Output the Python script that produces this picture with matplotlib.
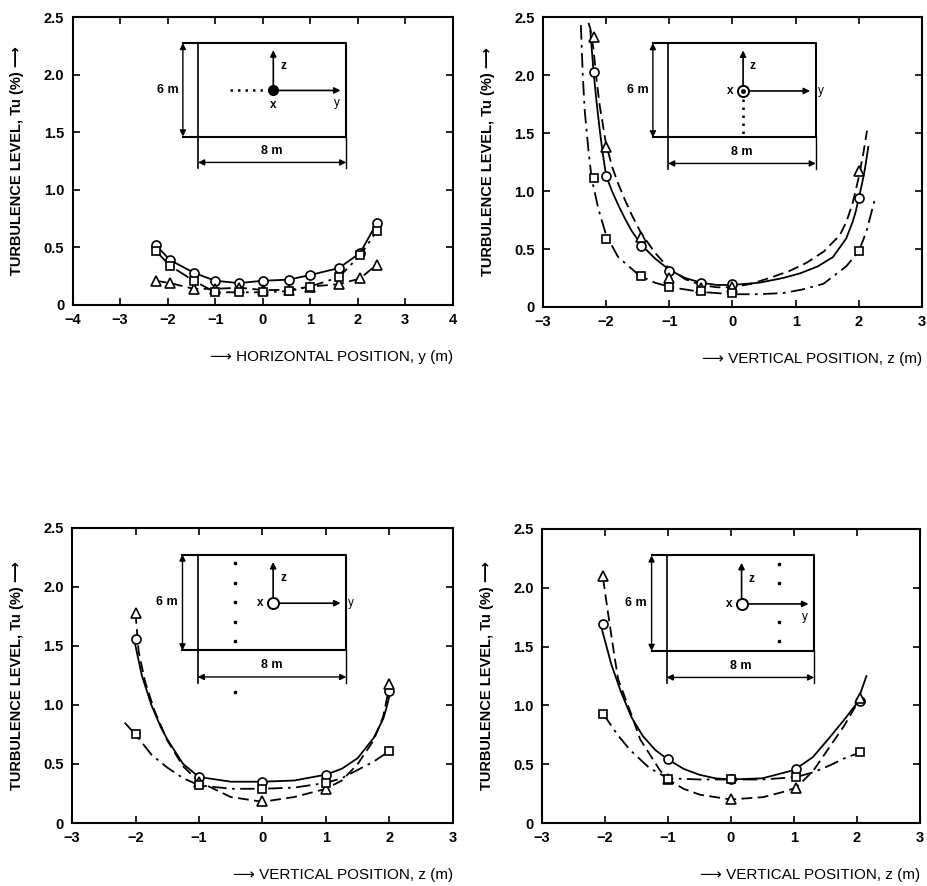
import matplotlib
matplotlib.use("Agg")
import matplotlib.pyplot as plt

plt.rcParams['font.family'] = ['Liberation Sans', 'DejaVu Sans']

# ---- top left: horizontal traverse, y (m) ----
tl_x = [-2.25, -1.95, -1.45, -1.0, -0.5, 0.0, 0.55, 1.0, 1.6, 2.05, 2.4]
tl_circle = [0.52, 0.39, 0.28, 0.21, 0.19, 0.21, 0.22, 0.26, 0.32, 0.45, 0.71]
tl_square = [0.47, 0.34, 0.21, 0.11, 0.11, 0.11, 0.12, 0.16, 0.24, 0.43, 0.64]
tl_triangle = [0.21, 0.19, 0.14, 0.14, 0.15, 0.13, 0.13, 0.16, 0.18, 0.23, 0.35]

# ---- top right: vertical traverse through centre ----
tr_x = [-2.2, -2.0, -1.45, -1.0, -0.5, 0.0, 2.0]
tr_circle = [2.03, 1.13, 0.53, 0.31, 0.21, 0.20, 0.94]
tr_triangle = [2.33, 1.38, 0.60, 0.25, 0.16, 0.17, 1.17]
tr_square = [1.11, 0.59, 0.27, 0.17, 0.14, 0.12, 0.48]

tr_solid_x = [-2.25, -2.2, -2.15, -2.1, -2.05, -2.0, -1.9, -1.8, -1.7, -1.6, -1.45, -1.23,
              -1.0, -0.75, -0.5, -0.25, 0.0, 0.43, 0.8, 1.07, 1.35, 1.59, 1.8, 1.9, 1.95,
              2.0, 2.05, 2.1, 2.15]
tr_solid_y = [2.38, 2.03, 1.76, 1.52, 1.31, 1.13, 0.99, 0.87, 0.76, 0.66, 0.54, 0.42,
              0.32, 0.25, 0.21, 0.19, 0.19, 0.21, 0.25, 0.29, 0.35, 0.43, 0.59, 0.73, 0.82,
              0.94, 1.06, 1.20, 1.38]
tr_dash_x = [-2.28, -2.25, -2.2, -2.15, -2.1, -2.0, -1.9, -1.8, -1.7, -1.6, -1.45, -1.23,
             -1.0, -0.75, -0.5, -0.25, 0.0, 0.3, 0.64, 0.9, 1.17, 1.45, 1.7, 1.8, 1.9, 2.0,
             2.07, 2.13]
tr_dash_y = [2.45, 2.40, 2.22, 1.95, 1.73, 1.40, 1.20, 1.05, 0.92, 0.80, 0.64, 0.47,
             0.33, 0.24, 0.19, 0.17, 0.17, 0.20, 0.26, 0.31, 0.38, 0.48, 0.62, 0.73, 0.89,
             1.12, 1.32, 1.52]
tr_dd_x = [-2.4, -2.37, -2.34, -2.28, -2.23, -2.12, -2.0, -1.81, -1.47, -1.23, -0.97, -0.5,
           0.0, 0.4, 0.8, 1.1, 1.44, 1.8, 2.0, 2.12, 2.25]
tr_dd_y = [2.43, 2.0, 1.70, 1.35, 1.11, 0.84, 0.62, 0.43, 0.27, 0.21, 0.17, 0.13,
           0.11, 0.11, 0.12, 0.15, 0.20, 0.35, 0.48, 0.65, 0.92]

# ---- bottom left: vertical traverse, left of centre ----
bl_x = [-2.0, -1.0, 0.0, 1.0, 2.0]
bl_circle = [1.56, 0.39, 0.35, 0.41, 1.12]
bl_triangle = [1.78, 0.35, 0.19, 0.29, 1.18]
bl_square = [0.75, 0.32, 0.29, 0.34, 0.61]

bl_solid_x = [-2.02, -1.9, -1.75, -1.6, -1.5, -1.25, -1.0, -0.5, 0.0, 0.5, 1.0, 1.25, 1.5,
              1.75, 1.9, 1.95, 2.0, 2.02]
bl_solid_y = [1.55, 1.25, 1.00, 0.81, 0.71, 0.50, 0.39, 0.35, 0.35, 0.36, 0.41, 0.46, 0.55,
              0.72, 0.88, 0.97, 1.08, 1.15]
bl_dash_x = [-2.0, -1.95, -1.85, -1.7, -1.5, -1.25, -1.0, -0.5, 0.0, 0.5, 1.0, 1.25, 1.5,
             1.75, 1.9, 2.0]
bl_dash_y = [1.78, 1.45, 1.20, 0.95, 0.70, 0.48, 0.35, 0.22, 0.18, 0.22, 0.29, 0.36, 0.50,
             0.70, 0.90, 1.16]
bl_dd_x = [-2.17, -2.0, -1.75, -1.5, -1.25, -1.0, -0.5, 0.0, 0.5, 1.0, 1.25, 1.5, 1.75, 2.0]
bl_dd_y = [0.85, 0.75, 0.58, 0.47, 0.38, 0.32, 0.29, 0.29, 0.30, 0.34, 0.38, 0.45, 0.52, 0.61]

# ---- bottom right: vertical traverse, right of centre ----
br_x = [-2.03, -1.0, 0.0, 1.03, 2.05]
br_circle = [1.69, 0.54, 0.37, 0.46, 1.04]
br_triangle = [2.10, 0.37, 0.20, 0.30, 1.06]
br_square = [0.93, 0.37, 0.37, 0.39, 0.60]

br_solid_x = [-2.05, -1.9, -1.75, -1.58, -1.4, -1.2, -1.0, -0.75, -0.5, -0.25, 0.0, 0.5,
              1.0, 1.3, 1.57, 1.8, 2.0, 2.15]
br_solid_y = [1.65, 1.35, 1.12, 0.90, 0.74, 0.62, 0.54, 0.46, 0.41, 0.38, 0.37, 0.38,
              0.45, 0.56, 0.73, 0.88, 1.02, 1.25]
br_dash_x = [-2.03, -1.95, -1.85, -1.79, -1.6, -1.44, -1.13, -1.0, -0.75, -0.49, 0.0, 0.51,
             0.8, 1.03, 1.3, 1.57, 1.8, 2.05]
br_dash_y = [2.08, 1.78, 1.42, 1.22, 0.95, 0.71, 0.45, 0.37, 0.29, 0.24, 0.20, 0.22,
             0.26, 0.30, 0.44, 0.65, 0.83, 1.06]
br_dd_x = [-2.03, -1.8, -1.6, -1.3, -1.0, -0.5, 0.0, 0.5, 1.03, 1.3, 1.57, 1.8, 2.05]
br_dd_y = [0.93, 0.75, 0.62, 0.47, 0.38, 0.37, 0.37, 0.37, 0.39, 0.43, 0.49, 0.55, 0.60]

y_ticks = [0, 0.5, 1.0, 1.5, 2.0, 2.5]
y_ticklabels = ['0', '0.5', '1.0', '1.5', '2.0', '2.5']
ylabel = 'TURBULENCE LEVEL, Tu (%) \u27f6'
xlabel_h = '\u27f6 HORIZONTAL POSITION, y (m)'
xlabel_v = '\u27f6 VERTICAL POSITION, z (m)'

SOLID = '-'
DASH = (0, (6, 3))
DASHDOT = (0, (8, 3, 1.5, 3))
MK = dict(color='k', mfc='white', mec='k', mew=1.2, ls='none', zorder=4)


def setup(ax, xlim, xlabel):
    ax.set_xlim(*xlim)
    ax.set_ylim(0, 2.5)
    ax.set_xticks(range(xlim[0], xlim[1] + 1))
    ax.set_xticklabels(['\u2212%d' % -v if v < 0 else '%d' % v for v in range(xlim[0], xlim[1] + 1)])
    ax.set_yticks(y_ticks)
    ax.set_yticklabels(y_ticklabels)
    ax.tick_params(direction='in', top=True, right=True, length=5, width=1.2,
                   labelsize=10.5, pad=6)
    for lab in ax.get_xticklabels() + ax.get_yticklabels():
        lab.set_fontweight('bold')
    for s in ax.spines.values():
        s.set_linewidth(1.5)
    ax.set_ylabel(ylabel, fontsize=10.5, fontweight='bold', labelpad=14)
    ax.set_xlabel(xlabel, fontsize=11, loc='right', labelpad=16)


def markers(ax, x, circ, tri, sq):
    ax.plot(x, circ, marker='o', ms=6.5, **MK)
    ax.plot(x, tri, marker='^', ms=6.5, **MK)
    ax.plot(x, sq, marker='s', ms=6, **MK)


def inset(ax, kind, x_left=False, y_below=False, dots=None):
    T = ax.transAxes
    x0, x1, y0, y1 = 0.33, 0.72, 0.585, 0.91
    xa = 0.29
    kw = dict(transform=T, color='k', lw=1.5)
    ax.plot([xa, x1, x1, xa], [y1, y1, y0, y0], **kw)
    ax.plot([x0, x0], [y1, 0.475], color='k', lw=1.2, transform=T)
    ax.plot([x1, x1], [y0, 0.475], color='k', lw=1.0, transform=T)
    arrow = dict(arrowstyle='<|-|>', color='k', lw=1.0, mutation_scale=9, shrinkA=0, shrinkB=0)
    ax.annotate('', xy=(xa, y1), xytext=(xa, y0), xycoords=T, arrowprops=arrow)
    ax.annotate('', xy=(x0, 0.495), xytext=(x1, 0.495), xycoords=T, arrowprops=arrow)
    ax.text(xa - 0.012, (y0 + y1) / 2, '6 m', transform=T, ha='right', va='center',
            fontsize=9, fontweight='bold')
    ax.text((x0 + x1) / 2, 0.515, '8 m', transform=T, ha='center', va='bottom',
            fontsize=9, fontweight='bold')

    ox, oy = 0.528, 0.745
    head = dict(arrowstyle='-|>', color='k', lw=1.2, mutation_scale=9, shrinkA=0, shrinkB=0)
    ax.annotate('', xy=(ox, 0.885), xytext=(ox, oy + 0.02), xycoords=T, arrowprops=head)
    ax.annotate('', xy=(0.705, oy), xytext=(ox + 0.012, oy), xycoords=T, arrowprops=head)
    ax.text(ox + 0.018, 0.83, 'z', transform=T, ha='left', va='center', fontsize=8.5,
            fontweight='bold')
    if y_below:
        ax.text(0.695, oy - 0.045, 'y', transform=T, ha='center', va='center', fontsize=8.5)
    else:
        ax.text(0.725, oy, 'y', transform=T, ha='left', va='center', fontsize=8.5)
    if x_left:
        ax.text(ox - 0.025, oy, 'x', transform=T, ha='right', va='center', fontsize=8.5,
                fontweight='bold')
    else:
        ax.text(ox, oy - 0.05, 'x', transform=T, ha='center', va='center', fontsize=8.5,
                fontweight='bold')

    if kind == 'filled':
        ax.plot([0.415, ox], [oy, oy], transform=T, color='k', lw=1.8, ls=(0, (1, 2)))
        ax.plot([ox], [oy], 'o', transform=T, ms=7, mfc='k', mec='k', zorder=5)
    else:
        if kind == 'down':
            ax.plot([ox, ox], [oy, 0.595], transform=T, color='k', lw=1.8, ls=(0, (1, 2.2)))
        ax.plot([ox], [oy], 'o', transform=T, ms=8, mfc='white', mec='k', mew=1.4, zorder=5)
        if kind == 'down':
            ax.plot([ox], [oy], 'o', transform=T, ms=2.5, color='k', zorder=6)
    if dots is not None:
        dx, dys = dots
        ax.plot([dx] * len(dys), dys, 's', transform=T, ms=2, color='k')


fig = plt.figure(figsize=(9.28, 8.86), dpi=100)
ax_tl = fig.add_axes([0.0783, 0.6558, 0.4095, 0.3250])
ax_tr = fig.add_axes([0.5851, 0.6535, 0.4084, 0.3273])
ax_bl = fig.add_axes([0.0776, 0.0711, 0.4105, 0.3330])
ax_br = fig.add_axes([0.5840, 0.0711, 0.4074, 0.3319])

# top left
setup(ax_tl, (-4, 4), xlabel_h)
ax_tl.plot(tl_x, tl_circle, color='k', lw=1.3, ls=SOLID)
ax_tl.plot(tl_x, tl_square, color='k', lw=1.3, ls=DASHDOT)
ax_tl.plot(tl_x, tl_triangle, color='k', lw=1.3, ls=DASH)
markers(ax_tl, tl_x, tl_circle, tl_triangle, tl_square)
inset(ax_tl, 'filled', x_left=False, y_below=True)

# top right
setup(ax_tr, (-3, 3), xlabel_v)
ax_tr.plot(tr_solid_x, tr_solid_y, color='k', lw=1.3, ls=SOLID)
ax_tr.plot(tr_dash_x, tr_dash_y, color='k', lw=1.3, ls=DASH)
ax_tr.plot(tr_dd_x, tr_dd_y, color='k', lw=1.3, ls=DASHDOT)
markers(ax_tr, tr_x, tr_circle, tr_triangle, tr_square)
inset(ax_tr, 'down', x_left=True)

# bottom left
setup(ax_bl, (-3, 3), xlabel_v)
ax_bl.plot(bl_solid_x, bl_solid_y, color='k', lw=1.3, ls=SOLID)
ax_bl.plot(bl_dash_x, bl_dash_y, color='k', lw=1.3, ls=DASH)
ax_bl.plot(bl_dd_x, bl_dd_y, color='k', lw=1.3, ls=DASHDOT)
markers(ax_bl, bl_x, bl_circle, bl_triangle, bl_square)
inset(ax_bl, 'open', x_left=True, dots=(0.427, [0.88, 0.815, 0.75, 0.682, 0.618, 0.444]))

# bottom right
setup(ax_br, (-3, 3), xlabel_v)
ax_br.plot(br_solid_x, br_solid_y, color='k', lw=1.3, ls=SOLID)
ax_br.plot(br_dash_x, br_dash_y, color='k', lw=1.3, ls=DASH)
ax_br.plot(br_dd_x, br_dd_y, color='k', lw=1.3, ls=DASHDOT)
markers(ax_br, br_x, br_circle, br_triangle, br_square)
inset(ax_br, 'open', x_left=True, y_below=True, dots=(0.627, [0.88, 0.815, 0.682, 0.618]))

fig.savefig('out.png', dpi=100)
